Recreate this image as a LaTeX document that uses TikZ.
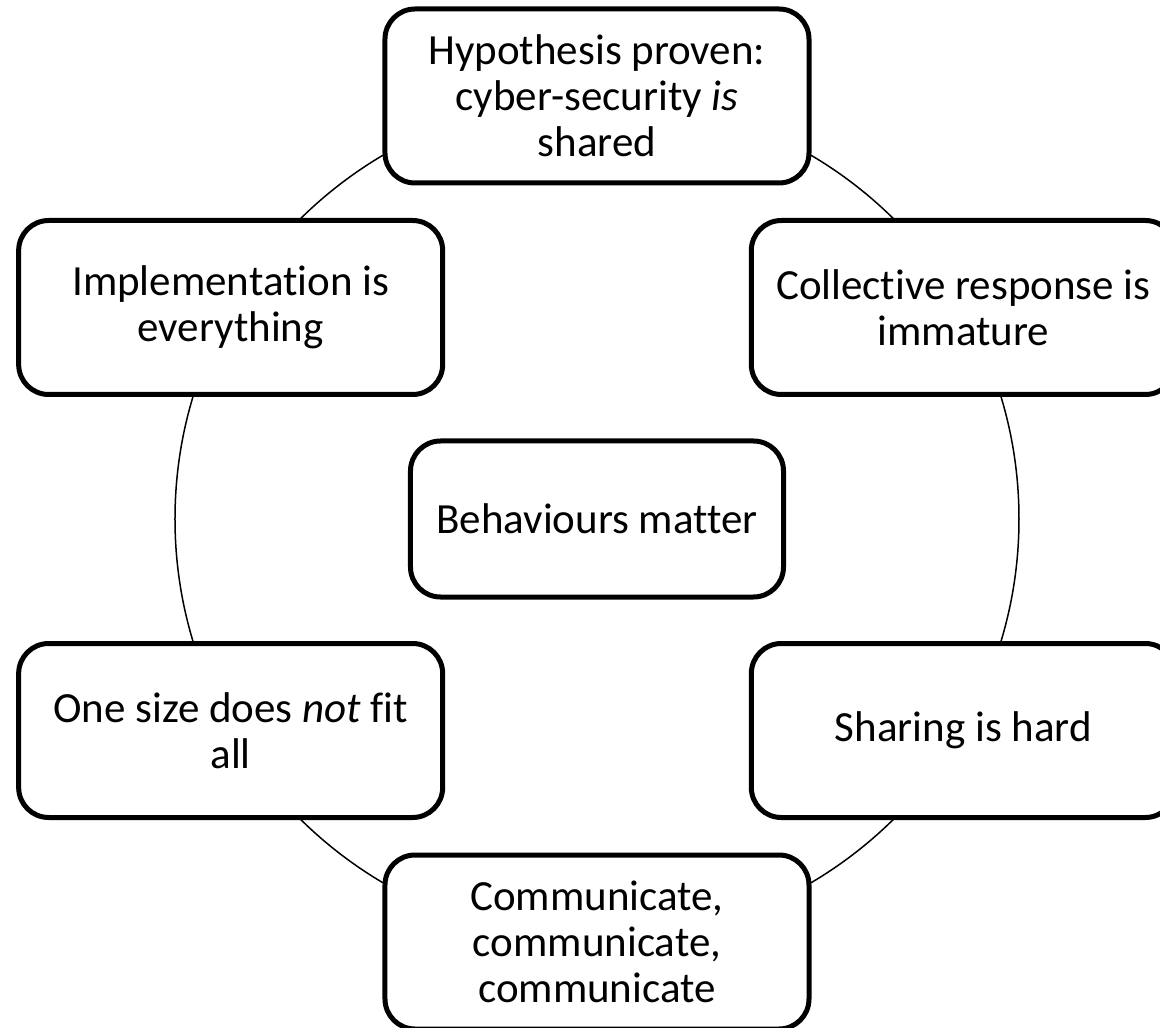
\documentclass[tikz,border=0pt]{standalone}
\usepackage{fontspec}
\setmainfont{Carlito}[Ligatures=CommonOff]
\usepackage{tikz}
\usetikzlibrary{positioning}
\tikzstyle{ring} = [line width=1.5pt, color=black]
\tikzstyle{idea} = [rectangle, rounded corners=30pt, minimum width=424pt, minimum height=174pt, align=center, draw=black, fill=white, line width=5pt, font=\fontsize{43}{46}\selectfont]

\begin{document}
\begin{tikzpicture}[x=1pt, y=1pt]
\useasboundingbox (-597,-509) rectangle (563,519);
% ring behind the boxes
\coordinate (o) at (0,0);
\draw[ring] (o) circle (422pt);
% outer boxes
\node[idea] (hyp) at (90:423pt) {Hypothesis proven:\\cyber-security \textit{is}\\shared};
\node[idea] (col) at (30:423pt) {Collective response is\\immature};
\node[idea] (shr) at (-30:423pt) {Sharing is hard};
\node[idea] (com) at (-90:423pt) {Communicate,\\communicate,\\communicate};
\node[idea] (one) at (210:423pt) {One size does \textit{not} fit\\all};
\node[idea] (imp) at (150:423pt) {Implementation is\\everything};
% middle box
\node[idea, minimum width=373pt, minimum height=156pt] (beh) at (o) {Behaviours matter};
\end{tikzpicture}
\end{document}
